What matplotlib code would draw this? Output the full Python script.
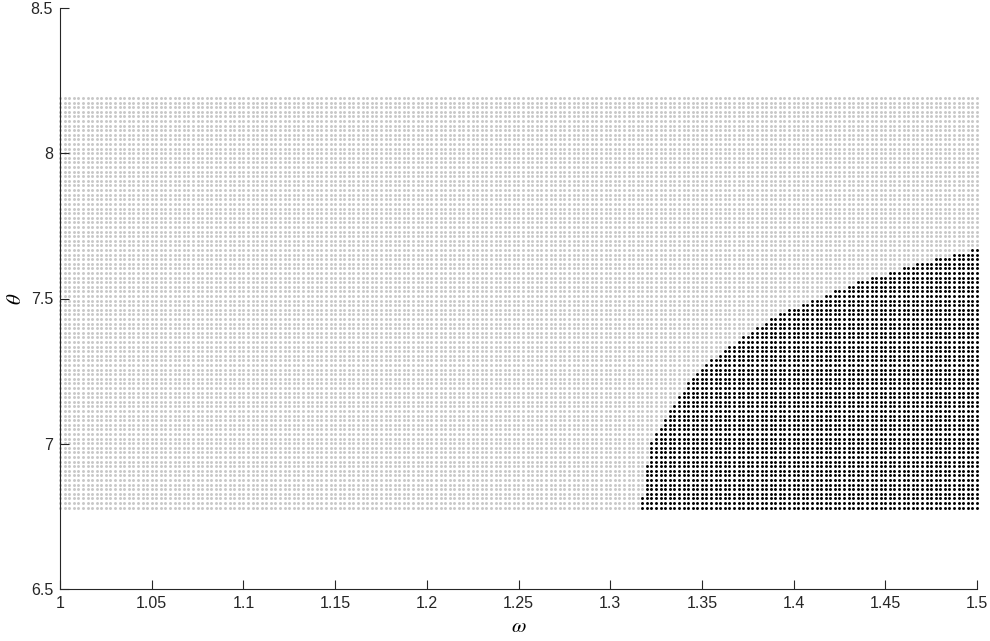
import numpy as np
import matplotlib
matplotlib.use('Agg')
import matplotlib.pyplot as plt

plt.rcParams['mathtext.fontset'] = 'stix'

# grid of (omega, theta) points that were tested
omega = np.linspace(1.0, 1.5, 201)
theta = np.linspace(6.78, 8.19, 90)

# edge of the black region: for each theta, smallest omega that is black
edge_theta = [6.77, 7.00, 7.08, 7.20, 7.30, 7.40, 7.46, 7.50, 7.54, 7.56, 7.60, 7.62, 7.66, 7.675, 7.68]
edge_omega = [1.316, 1.322, 1.329, 1.341, 1.357, 1.379, 1.396, 1.412, 1.428, 1.436, 1.457, 1.467, 1.492, 1.499, 1.51]

W, T = np.meshgrid(omega, theta)
black = W >= np.interp(T, edge_theta, edge_omega) - 1e-9

fig = plt.figure(figsize=(9.9, 6.41), dpi=100)
ax = fig.add_axes([60/990, 52/641, 917/990, 581/641])

ax.scatter(W[~black], T[~black], s=4.5, c='#c8c8c8', marker='o', linewidths=0, clip_on=False)
ax.scatter(W[black], T[black], s=4.5, c='black', marker='o', linewidths=0, clip_on=False)

ax.set_xlim(1, 1.5)
ax.set_ylim(6.5, 8.5)
ax.set_xticks(np.arange(1, 1.5001, 0.05))
ax.set_xticklabels(['1', '1.05', '1.1', '1.15', '1.2', '1.25', '1.3', '1.35', '1.4', '1.45', '1.5'])
ax.set_yticks([6.5, 7, 7.5, 8, 8.5])
ax.set_yticklabels(['6.5', '7', '7.5', '8', '8.5'])

for s in ['top', 'right']:
    ax.spines[s].set_visible(False)
for s in ['left', 'bottom']:
    ax.spines[s].set_color('#262626')
    ax.spines[s].set_linewidth(0.8)
ax.tick_params(direction='in', length=6.5, width=0.8, color='#262626',
               labelcolor='#262626', labelsize=11.5)
ax.tick_params(axis='x', pad=5)
ax.tick_params(axis='y', pad=5)
for lab in ax.get_xticklabels() + ax.get_yticklabels():
    lab.set_family(['Liberation Sans', 'DejaVu Sans'])

ax.set_xlabel(r'$\omega$', fontsize=15, labelpad=4)
ax.set_ylabel(r'$\theta$', fontsize=15, labelpad=4)

fig.savefig('out.png', dpi=100)
